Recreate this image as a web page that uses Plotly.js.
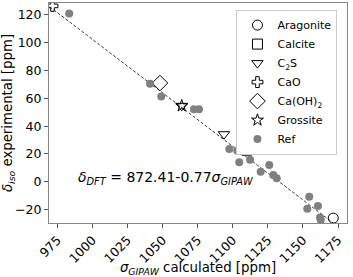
<!DOCTYPE html>
<html><head><meta charset="utf-8">
<script src="https://cdn.plot.ly/plotly-3.0.1.min.js"></script>
<style>body{margin:0;padding:0;background:#fff}#p{width:353px;height:277px}</style>
</head><body><div id="p"></div>
<script>
var refX = [983.4, 1041.0, 1049.0, 1072.3, 1075.9, 1097.5, 1103.2, 1104.6, 1112.3, 1119.9, 1126.0, 1128.9, 1131.3, 1154.5, 1153.1, 1160.7, 1162.2, 1162.7];
var refY = [121.0, 70.5, 61.3, 52.2, 52.2, 23.6, 22.2, 14.0, 15.9, 7.2, 12.0, 4.8, 2.5, -10.8, -19.5, -17.5, -25.7, -27.6];
var names = ["Aragonite", "Calcite", "C<sub>2</sub>S", "CaO", "Ca(OH)<sub>2</sub>", "Grossite"];
var symbols = ["circle-open", "square-open", "triangle-down-open", "cross-open", "diamond-open", "star-open"];
var sizes = [10, 10, 10, 9, 12, 9];
var compX = [[1171.6], [1109.9], [1063.6, 1093.7], [971.5], [1048.1], [1063.6]];
var compY = [[-26.2], [22.7], [54.6, 34.2], [126.5], [71.0], [54.6]];
var fitA = 872.41, fitB = -0.77;
var fitX = [969.5, 1172];

var traces = [];
traces.push({x: fitX, y: fitX.map(function(v){return fitA + fitB*v;}), mode: 'lines', showlegend: false,
  line: {color: '#000', width: 0.8, dash: '3px,2px'}, hoverinfo: 'skip'});
for (var i = 0; i < names.length; i++) {
  traces.push({x: compX[i], y: compY[i], mode: 'markers', name: names[i],
    marker: {symbol: symbols[i], size: sizes[i], color: '#000', line: {width: 1, color: '#000'}}});
}
traces.push({x: refX, y: refY, mode: 'markers', name: 'Ref', marker: {symbol: 'circle', size: 8, color: '#808080'}});

var font = {family: 'DejaVu Sans', size: 11, color: '#000'};
var layout = {
  width: 353, height: 277,
  margin: {l: 49, r: 6, t: 3, b: 54},
  paper_bgcolor: '#fff', plot_bgcolor: '#fff',
  font: font,
  showlegend: true,
  legend: {x: 0.968, y: 0.97, xanchor: 'right', yanchor: 'top', bgcolor: '#fff', bordercolor: '#ccc', borderwidth: 1,
    font: {family: 'DejaVu Sans', size: 11, color: '#000'}, tracegroupgap: 0, itemwidth: 30},
  xaxis: {range: [969, 1181.4], tickvals: [975, 1000, 1025, 1050, 1075, 1100, 1125, 1150, 1175],
    tickangle: -45, ticks: 'outside', ticklen: 4, tickcolor: '#555', showgrid: false, zeroline: false,
    showline: true, linecolor: '#888', mirror: true, linewidth: 1, tickfont: {family: 'DejaVu Sans', size: 12.5},
    title: {text: '<i>σ<sub>GIPAW</sub></i> calculated [ppm]', font: {family: 'DejaVu Sans', size: 13.3}, standoff: 2}},
  yaxis: {range: [-29.7, 128.6], tickvals: [-20, 0, 20, 40, 60, 80, 100, 120],
    ticks: 'outside', ticklen: 4, tickcolor: '#555', showgrid: false, zeroline: false,
    showline: true, linecolor: '#888', mirror: true, linewidth: 1, tickfont: {family: 'DejaVu Sans', size: 12.5},
    title: {text: '<i>δ<sub>iso</sub></i> experimental [ppm]', font: {family: 'DejaVu Sans', size: 13.3}, standoff: 2}},
  annotations: [{xref: 'paper', yref: 'paper', x: 0.09, y: 0.205, xanchor: 'left', yanchor: 'middle', showarrow: false,
    text: '<i>δ<sub>DFT</sub></i> = 872.41-0.77<i>σ<sub>GIPAW</sub></i>', font: {family: 'DejaVu Sans', size: 14, color: '#000'}}]
};
Plotly.newPlot('p', traces, layout, {displayModeBar: false, staticPlot: true});
</script></body></html>
